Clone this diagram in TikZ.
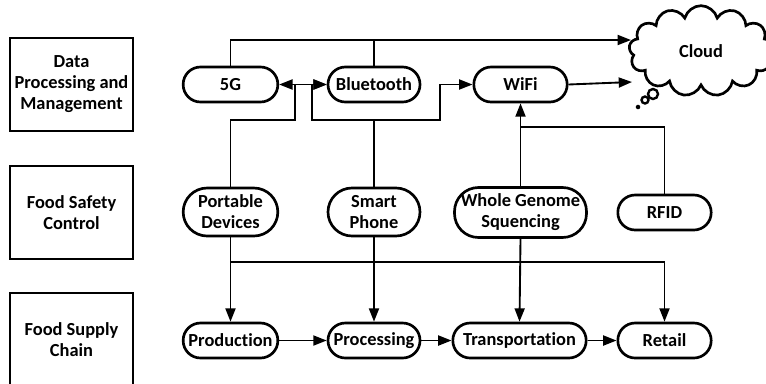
\documentclass[tikz,border=0pt]{standalone}
\usepackage{fontspec}
\setmainfont{Carlito}[Ligatures=NoCommon]
\usetikzlibrary{arrows.meta,shapes.symbols}

\begin{document}
\begin{tikzpicture}[x=0.75pt,y=-0.75pt,
  every node/.style={font=\fontsize{13.8}{15.8}\selectfont\bfseries},
  layer/.style={draw,line width=2pt,minimum width=92.25pt,minimum height=69.75pt,align=center},
  pill/.style={draw,line width=2pt,rounded corners=13pt,minimum width=71pt,minimum height=26.25pt,inner xsep=1pt,align=center},
  pilltwo/.style={pill,rounded corners=18pt,minimum height=36pt},
  arr/.style={line width=1.4pt,-{Triangle[length=10pt,width=7.5pt]}},
  wire/.style={line width=1.4pt}]

\useasboundingbox (0,0) rectangle (766,383);
\clip (0,0) rectangle (766,383);

% layers
\node[layer] (dpm) at (71.5,84.5) {Data\\Processing and\\Management};
\node[layer] (fsc) at (71.5,212.5) {Food Safety\\Control};
\node[layer] (fsy) at (71.5,339.5) {Food Supply\\Chain};

% data processing and management
\node[pill] (g5) at (230.5,84.5) {5G};
\node[pill,minimum width=69pt] (bt) at (374,84.5) {Bluetooth};
\node[pill,minimum width=70pt] (wifi) at (520.5,84.5) {WiFi};
\node[draw,cloud,cloud puffs=13,aspect=1.6,line width=2pt,minimum width=108pt,minimum height=68pt] (cloud) at (701,51) {Cloud};
\draw[line width=1.8pt] (653,94) circle[radius=3.75pt];
\draw[line width=1.8pt] (645,100) circle[radius=2.6pt];
\fill (638,107) circle[radius=1.7pt];

% food safety control
\node[pilltwo] (pd) at (230.5,212) {Portable\\Devices};
\node[pilltwo,minimum width=69pt] (sp) at (374,212) {Smart\\Phone};
\node[pilltwo,minimum width=99pt,minimum height=37.5pt] (wgs) at (520.5,212.5) {Whole Genome\\Squencing};
\node[pill,minimum width=70pt] (rfid) at (664.5,212.5) {RFID};

% food supply chain
\node[pill] (prod) at (230.5,340.5) {Production};
\node[pill,minimum width=69pt] (proc) at (374,340.5) {Processing};
\node[pill,minimum width=100pt] (trans) at (519.5,340.5) {Transportation};
\node[pill,minimum width=70pt] (ret) at (664.5,340.5) {Retail};

\coordinate (cin1) at (631,40);
\coordinate (cin2) at (632,82);
\coordinate (jpd) at (295,120);
\coordinate (jsp) at (312,120);
\coordinate (jwf) at (440,120);
\coordinate (jrf) at (520.5,127);
\coordinate (jbot) at (400,262);

\draw[arr] (g5.north) |- (cin1);
\draw[wire] (bt.north) -- (bt.north |- cin1);
\draw[arr] (pd.north) |- (jpd) |- (g5.east);
\draw[arr] (jpd) |- (bt.west);
\draw[arr] (sp.north) |- (jsp) |- (bt.west);
\draw[arr] (sp.north) |- (jwf) |- (wifi.west);
\draw[arr] (wifi.east) -- (cin2);
\draw[arr] (wgs.north) -- (wifi.south);
\draw[wire] (rfid.north) |- (jrf);

\draw[arr] (pd.south) -- (prod.north);
\draw[arr] (pd.south) |- (jbot) -| (ret.north);
\draw[arr] (sp.south) -- (proc.north);
\draw[arr] (wgs.south) -- (trans.north);
\draw[arr] (prod.east) -- (proc.west);
\draw[arr] (proc.east) -- (trans.west);
\draw[arr] (trans.east) -- (ret.west);

\end{tikzpicture}
\end{document}
